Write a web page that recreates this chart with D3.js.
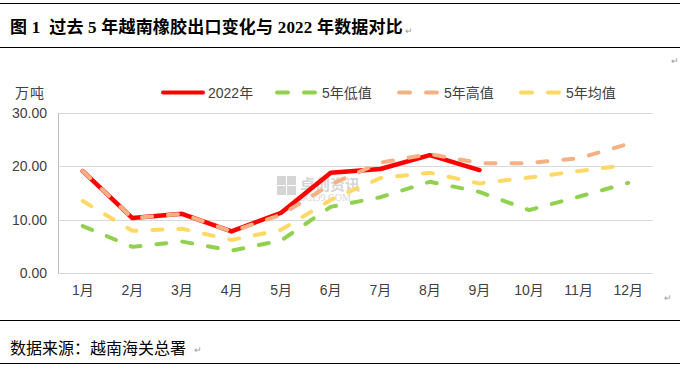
<!DOCTYPE html>
<html>
<head>
<meta charset="utf-8">
<script src="https://cdn.jsdelivr.net/npm/d3@7"></script>
<style>
  body { margin: 0; background: #fff; }
  svg { display: block; }
</style>
</head>
<body>
<svg id="chart" width="680" height="366"></svg>
<script>
// data (万吨)
var months = ["1月","2月","3月","4月","5月","6月","7月","8月","9月","10月","11月","12月"];
var y2022 = [19.1, 10.3, 11.1, 7.8, 11.3, 18.8, 19.5, 22.1, 19.3];
var low5  = [8.8, 4.9, 5.9, 4.2, 6.1, 12.4, 14.2, 17.1, 15.2, 11.8, 14.3, 16.9];
var high5 = [19.1, 10.3, 11.1, 7.8, 10.9, 16.6, 20.7, 22.3, 20.6, 20.6, 21.5, 24.2];
var avg5  = [13.5, 7.9, 8.3, 6.2, 8.1, 13.7, 17.8, 18.8, 16.8, 17.9, 19.1, 20.3];
var yTicks = [0, 10, 20, 30];

var series = [
  {name: "2022年", values: y2022, color: "#ff0000", dash: null},
  {name: "5年低值", values: low5, color: "#92d050", dash: "10,16"},
  {name: "5年高值", values: high5, color: "#f4b183", dash: "10,16"},
  {name: "5年均值", values: avg5, color: "#ffd966", dash: "10,16"}
];

var svg = d3.select("#chart");
var cjk = "'Liberation Sans', Arial, 'Noto Sans CJK SC', sans-serif";
var serif = "'Liberation Serif', 'Noto Sans CJK SC', serif";

// plot box (not "top": that is window.top)
var plotL = 58, plotR = 653, plotT = 113, plotB = 273;

var x = d3.scaleBand().domain(months).range([plotL, plotR]);
var y = d3.scaleLinear().domain([0, 30]).range([plotB, plotT]);

// document rules
[3.5, 47.5, 320.5, 363.5].forEach(function(yy) {
  svg.append("line").attr("x1", 0).attr("x2", 680).attr("y1", yy).attr("y2", yy)
    .attr("stroke", "#000").attr("stroke-width", 1.2);
});

svg.append("text").attr("x", 10).attr("y", 33)
  .attr("font-family", serif).attr("font-weight", "bold").attr("font-size", 17)
  .attr("letter-spacing", 0.2)
  .attr("fill", "#000")
  .attr("xml:space", "preserve")
  .style("white-space", "pre")
  .text("图 1  过去 5 年越南橡胶出口变化与 2022 年数据对比");

svg.append("text").attr("x", 10).attr("y", 354)
  .attr("font-family", cjk).attr("font-size", 16).attr("fill", "#000")
  .text("数据来源：越南海关总署");

// paragraph marks
[[405, 34], [671, 64], [664, 301], [194, 353]].forEach(function(p) {
  svg.append("text").attr("x", p[0]).attr("y", p[1])
    .attr("font-family", cjk).attr("font-size", 9).attr("fill", "#999")
    .text("↵");
});

// grid
svg.append("g").selectAll("line").data(yTicks).enter().append("line")
  .attr("x1", plotL).attr("x2", plotR)
  .attr("y1", function(d) { return Math.round(y(d)) + 0.5; })
  .attr("y2", function(d) { return Math.round(y(d)) + 0.5; })
  .attr("stroke", "#d9d9d9").attr("stroke-width", 1);

svg.append("line").attr("x1", plotL + 0.5).attr("x2", plotL + 0.5)
  .attr("y1", plotT).attr("y2", plotB + 0.5)
  .attr("stroke", "#bfbfbf");

// axes labels
var yAxis = d3.axisLeft(y).tickValues(yTicks).tickSize(0).tickPadding(11)
  .tickFormat(d3.format(".2f"));
var gy = svg.append("g").attr("transform", "translate(" + plotL + ",0)").call(yAxis);
gy.select(".domain").remove();
gy.selectAll("text").attr("font-family", cjk).attr("font-size", 14).attr("fill", "#404040");

var xAxis = d3.axisBottom(x).tickSize(0).tickPadding(12);
var gx = svg.append("g").attr("transform", "translate(0," + plotB + ")").call(xAxis);
gx.select(".domain").remove();
gx.selectAll("text").attr("font-family", cjk).attr("font-size", 14).attr("fill", "#404040");

svg.append("text").attr("x", 15).attr("y", 98)
  .attr("font-family", cjk).attr("font-size", 14).attr("fill", "#404040")
  .attr("letter-spacing", 1)
  .text("万吨");

// watermark
var wm = svg.append("g").attr("opacity", 0.35);
[[0,0],[10,0],[0,10],[10,10]].forEach(function(c) {
  wm.append("rect").attr("x", 277 + c[0]).attr("y", 176 + c[1])
    .attr("width", 9).attr("height", 9).attr("fill", "#888");
});
wm.append("text").attr("x", 300).attr("y", 190)
  .attr("font-family", cjk).attr("font-size", 15).attr("font-weight", "bold").attr("fill", "#888")
  .text("卓创资讯");
wm.append("text").attr("x", 300).attr("y", 201)
  .attr("font-family", serif).attr("font-size", 10).attr("fill", "#888")
  .text("SCI99.COM");

// lines
var line = d3.line()
  .x(function(d, i) { return x(months[i]) + x.bandwidth() / 2; })
  .y(function(d) { return y(d); });

svg.append("g").selectAll("path").data(series).enter().append("path")
  .attr("d", function(s) { return line(s.values); })
  .attr("fill", "none")
  .attr("stroke", function(s) { return s.color; })
  .attr("stroke-width", function(s) { return s.dash ? 4 : 4.5; })
  .attr("stroke-dasharray", function(s) { return s.dash; })
  .attr("stroke-linecap", "round")
  .attr("stroke-linejoin", "round");

// legend
var legX = [161, 275, 397, 519];
var leg = svg.append("g").selectAll("g").data(series).enter().append("g")
  .attr("transform", function(d, i) { return "translate(" + legX[i] + ",92.5)"; });
leg.append("line")
  .attr("x1", 2).attr("x2", 42).attr("y1", 0).attr("y2", 0)
  .attr("stroke", function(s) { return s.color; })
  .attr("stroke-width", 4)
  .attr("stroke-linecap", "round")
  .attr("stroke-dasharray", function(s) { return s.dash ? "11,16" : null; });
leg.append("text").attr("x", 47).attr("y", 5)
  .attr("font-family", cjk).attr("font-size", 14).attr("fill", "#404040")
  .text(function(s) { return s.name; });
</script>
</body>
</html>
